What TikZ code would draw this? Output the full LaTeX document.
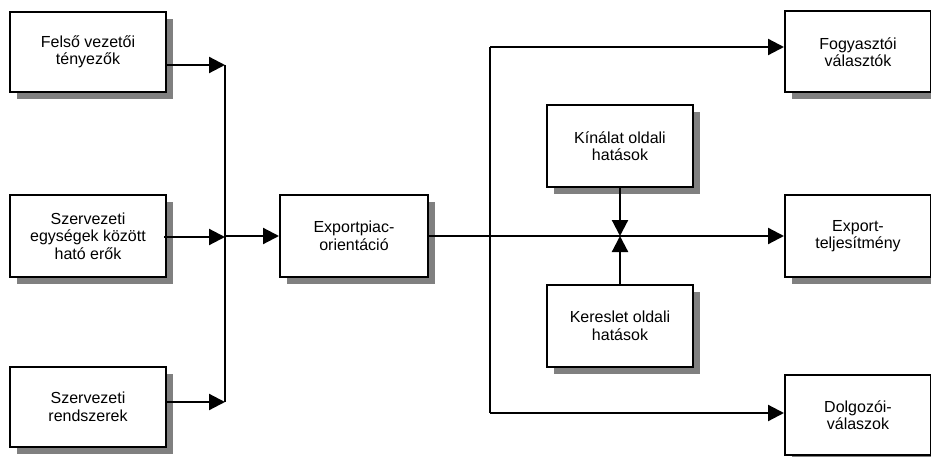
\documentclass[tikz,border=0pt]{standalone}
\usepackage{fontspec}
\setmainfont{Liberation Sans}
\usetikzlibrary{arrows.meta,shadows}
\definecolor{shadowgray}{HTML}{808080}
\begin{document}
\begin{tikzpicture}[x=1pt,y=-1pt,
  box/.style={draw=black, line width=2pt, fill=white, align=center,
    font=\fontsize{16}{17.5}\selectfont, inner sep=0pt,
    drop shadow={shadow xshift=7pt, shadow yshift=-7pt, fill=shadowgray, opacity=1}},
  conn/.style={line width=2.2pt},
  arr/.style={conn, -{Triangle[length=16pt,width=16pt]}}]
\useasboundingbox (0,0) rectangle (931,457);
% left boxes
\node[box, minimum width=156, minimum height=80] (b1) at (88,52) {Felső vezetői\\tényezők};
\node[box, minimum width=156, minimum height=82] (b2) at (88,236) {Szervezeti\\egységek között\\ható erők};
\node[box, minimum width=156, minimum height=80] (b3) at (88,407) {Szervezeti\\rendszerek};
% middle
\node[box, minimum width=148, minimum height=82] (exp) at (354,236) {Exportpiac-\\orientáció};
\node[box, minimum width=146, minimum height=82] (kin) at (620,146) {Kínálat oldali\\hatások};
\node[box, minimum width=146, minimum height=82] (ker) at (620,326) {Kereslet oldali\\hatások};
% right boxes
\node[box, minimum width=146, minimum height=81] (r1) at (858,52) {Fogyasztói\\választók};
\node[box, minimum width=146, minimum height=81] (r2) at (858,236) {Export-\\teljesítmény};
\node[box, minimum width=146, minimum height=80] (r3) at (858,415) {Dolgozói-\\válaszok};
% junction coordinates
\coordinate (j1) at (225,65);
\coordinate (j2) at (225,237);
\coordinate (j3) at (225,402);
\coordinate (t1) at (490,47);
\coordinate (t3) at (490,413);
\coordinate (cx) at (620,236);
% left side
\draw[conn] (j1) -- (j3);
\draw[arr] (b1.east |- j1) -- (j1);
\draw[arr] ([xshift=-3pt]b2.east |- j2) -- (j2);
\draw[arr] (b3.east |- j3) -- (j3);
\draw[arr] (j2 |- exp.west) -- (exp.west);
% right side
\draw[arr] (exp.east) -- (r2.west);
\draw[conn] (t1) -- (t3);
\draw[arr] (t1) -- (r1.west |- t1);
\draw[arr] (t3) -- (r3.west |- t3);
\draw[arr] (kin.south) -- (cx);
\draw[arr] (ker.north) -- (cx);
\end{tikzpicture}
\end{document}
